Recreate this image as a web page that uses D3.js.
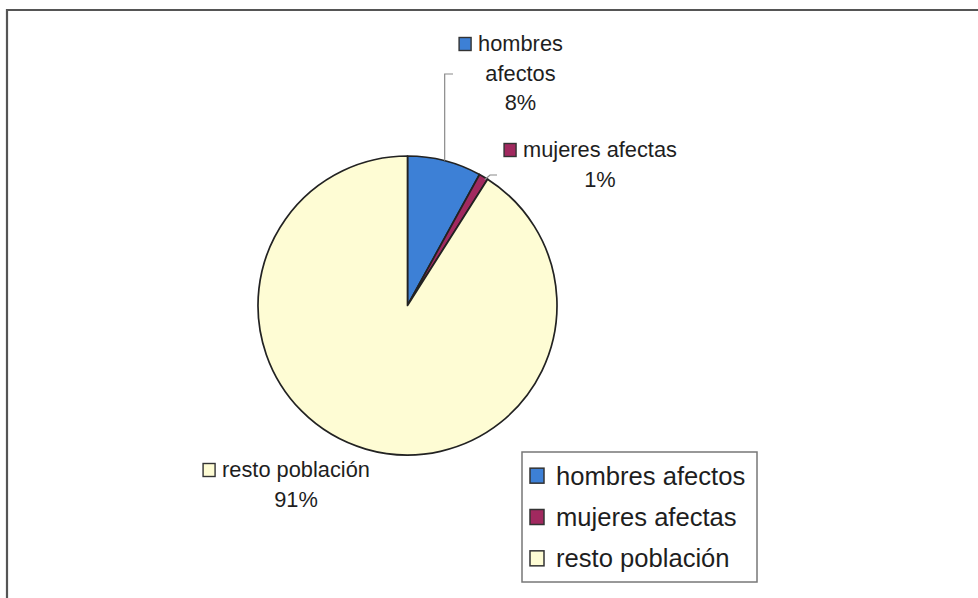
<!DOCTYPE html>
<html>
<head>
<meta charset="utf-8">
<script src="https://cdn.jsdelivr.net/npm/d3@7"></script>
<style>
  html, body { margin: 0; padding: 0; background: #ffffff; }
  svg { display: block; }
  text { font-family: "Liberation Sans", Arial, sans-serif; fill: #1e1e1e; }
</style>
</head>
<body>
<svg id="chart" width="978" height="598"></svg>
<script>
// Population shares (percent)
const categories = ["hombres afectos", "mujeres afectas", "resto población"];
const values = [8, 1, 91];
const colors = ["#3d80d6", "#a1295f", "#fefcd4"];

const svg = d3.select("#chart");
const W = 978, H = 598;

// outer chart frame (top and left edges visible)
svg.append("path")
  .attr("d", `M7,${H + 5} L7,10 L${W + 5},10`)
  .attr("fill", "none")
  .attr("stroke", "#555")
  .attr("stroke-width", 2.2);

const cx = 407.5, cy = 305.5, R = 149.5;
const g = svg.append("g").attr("transform", `translate(${cx},${cy})`);

const pie = d3.pie().sort(null).value(d => d.value);
const arcs = pie(categories.map((c, i) => ({ name: c, value: values[i], color: colors[i] })));
const arc = d3.arc().innerRadius(0).outerRadius(R);

g.selectAll("path.slice")
  .data(arcs)
  .join("path")
  .attr("class", "slice")
  .attr("d", arc)
  .attr("fill", d => d.data.color)
  .attr("stroke", "#222")
  .attr("stroke-width", 1.7)
  .attr("stroke-linejoin", "round");

// rim point at the middle angle of a slice, in page coordinates
function rimPoint(d) {
  const a = (d.startAngle + d.endAngle) / 2;
  return [cx + R * Math.sin(a), cy - R * Math.cos(a)];
}

// data label positions: centre x of the text block, first baseline
const labelPos = [
  { x: 520.5, y: 51, lines: ["hombres", "afectos"], leader: p => [[p[0], p[1]], [p[0], 74], [453, 74]] },
  { x: 600, y: 157, lines: ["mujeres afectas"], leader: p => [[p[0] + 1, p[1] + 3], [490, 175], [497, 175]] },
  { x: 296, y: 477, lines: ["resto población"], leader: null }
];

const fmt = d3.format(".0%");
const lineH = 29.5;
const labelSize = 21.8;

arcs.forEach((d, i) => {
  const L = labelPos[i];
  const p = rimPoint(d);
  if (L.leader) {
    svg.append("path")
      .attr("d", d3.line()(L.leader(p)))
      .attr("fill", "none")
      .attr("stroke", "#8a8a8a")
      .attr("stroke-width", 1.2);
  }
  const texts = L.lines.concat([fmt(d.data.value / 100)]);
  texts.forEach((t, k) => {
    svg.append("text")
      .attr("x", L.x)
      .attr("y", L.y + k * lineH)
      .attr("text-anchor", "middle")
      .attr("font-size", labelSize)
      .text(t);
  });
  // colour key in front of the first line
  const first = svg.append("text").attr("font-size", labelSize).text(L.lines[0]);
  const w = first.node().getComputedTextLength();
  first.remove();
  svg.append("rect")
    .attr("x", L.x - w / 2 - 19)
    .attr("y", L.y - 13.5)
    .attr("width", 12)
    .attr("height", 13)
    .attr("fill", d.data.color)
    .attr("stroke", "#333")
    .attr("stroke-width", 1.4);
});

// legend
const lg = svg.append("g");
lg.append("rect")
  .attr("x", 522).attr("y", 452)
  .attr("width", 235).attr("height", 130)
  .attr("fill", "#fff")
  .attr("stroke", "#777")
  .attr("stroke-width", 1.5);

const rowY = d3.scaleBand().domain(categories).range([455, 579]);
categories.forEach((c, i) => {
  const y = rowY(c) + rowY.bandwidth() / 2;
  lg.append("rect")
    .attr("x", 530).attr("y", y - 7.5)
    .attr("width", 14).attr("height", 15)
    .attr("fill", colors[i])
    .attr("stroke", "#333")
    .attr("stroke-width", 1.5);
  lg.append("text")
    .attr("x", 556).attr("y", y + 9)
    .attr("font-size", 25.6)
    .text(c);
});
</script>
</body>
</html>
